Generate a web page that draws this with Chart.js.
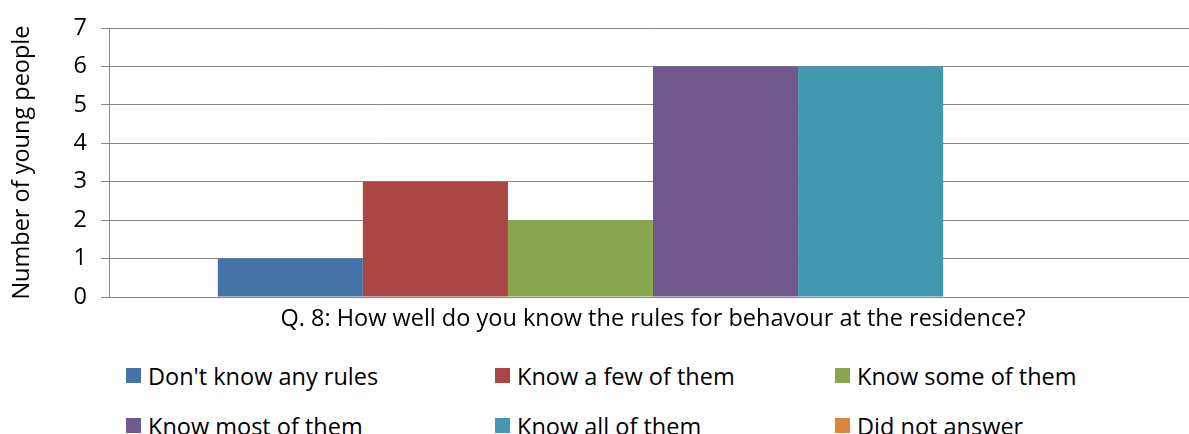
<!DOCTYPE html>
<html>
<head>
<meta charset="utf-8">
<script src="https://cdn.jsdelivr.net/npm/chart.js@4/dist/chart.umd.min.js"></script>
<style>
    html, body {
        margin: 0;
        padding: 0;
        background: #fff;
        overflow: hidden;
    }
    #wrap {
        position: relative;
        width: 1200px;
        height: 434px;
        font-family: "Open Sans", sans-serif;
    }
    #legend {
        position: absolute;
        left: 126px;
        top: 360px;
        display: grid;
        grid-template-columns: 369px 340px 320px;
        grid-auto-rows: 50px;
        font-size: 23.5px;
        color: #000;
    }
    .item {
        display: flex;
        align-items: center;
        height: 31px;
        white-space: nowrap;
    }
    .swatch {
        width: 15px;
        height: 15px;
        margin-right: 7px;
        flex: none;
    }
</style>
</head>
<body>
<div id="wrap">
    <canvas id="rulesChart" width="1200" height="340"></canvas>
    <div id="legend"></div>
</div>
<script>
// Survey answers: one question, one bar per answer
const question = ['Q. 8: How well do you know the rules for behavour at the residence?'];
const answers = ['Don\'t know any rules', 'Know a few of them', 'Know some of them',
                 'Know most of them', 'Know all of them', 'Did not answer'];
const counts = [1, 3, 2, 6, 6, 0];
const answerColors = ['#4572A7', '#AA4643', '#89A54E', '#71588F', '#4198AF', '#DB843D'];
const yTicks = [0, 1, 2, 3, 4, 5, 6, 7];

const gridGrey = '#878787';
const textFont = { family: '"Open Sans", sans-serif', size: 23.5 };

const chart = new Chart(document.getElementById('rulesChart'), {
    type: 'bar',
    data: {
        labels: question,
        datasets: answers.map((name, i) => ({
            label: name,
            data: [counts[i]],
            backgroundColor: answerColors[i],
            borderWidth: 0,
            barPercentage: 1,
            categoryPercentage: 0.8
        }))
    },
    options: {
        responsive: false,
        animation: false,
        layout: { padding: { left: 6, top: 12.5, right: 3, bottom: 0 } },
        scales: {
            x: {
                grid: { display: false, drawTicks: false },
                border: { display: true, color: gridGrey, width: 1 },
                ticks: { color: '#000', font: textFont, padding: 8, maxRotation: 0 },
                afterFit: axis => {
                    // keep the plot bottom at a fixed height above the legend
                    axis.height = 43;
                }
            },
            y: {
                min: yTicks[0],
                max: yTicks[yTicks.length - 1],
                afterBuildTicks: axis => {
                    axis.ticks = yTicks.map(v => ({ value: v }));
                },
                afterFit: axis => {
                    axis.width = 103;
                },
                grid: { color: gridGrey, lineWidth: 1, tickLength: 8 },
                border: { color: gridGrey, width: 1 },
                ticks: { color: '#000', font: textFont, padding: 14 },
                title: {
                    display: true,
                    text: 'Number of young people',
                    color: '#000',
                    font: textFont,
                    padding: 2
                }
            }
        },
        plugins: {
            legend: { display: false },
            tooltip: { enabled: false }
        }
    }
});

// Legend in three columns below the plot
const legendBox = document.getElementById('legend');
chart.data.datasets.forEach(ds => {
    const item = document.createElement('div');
    item.className = 'item';
    const sw = document.createElement('span');
    sw.className = 'swatch';
    sw.style.background = ds.backgroundColor;
    const label = document.createElement('span');
    label.textContent = ds.label;
    item.appendChild(sw);
    item.appendChild(label);
    legendBox.appendChild(item);
});
</script>
</body>
</html>
